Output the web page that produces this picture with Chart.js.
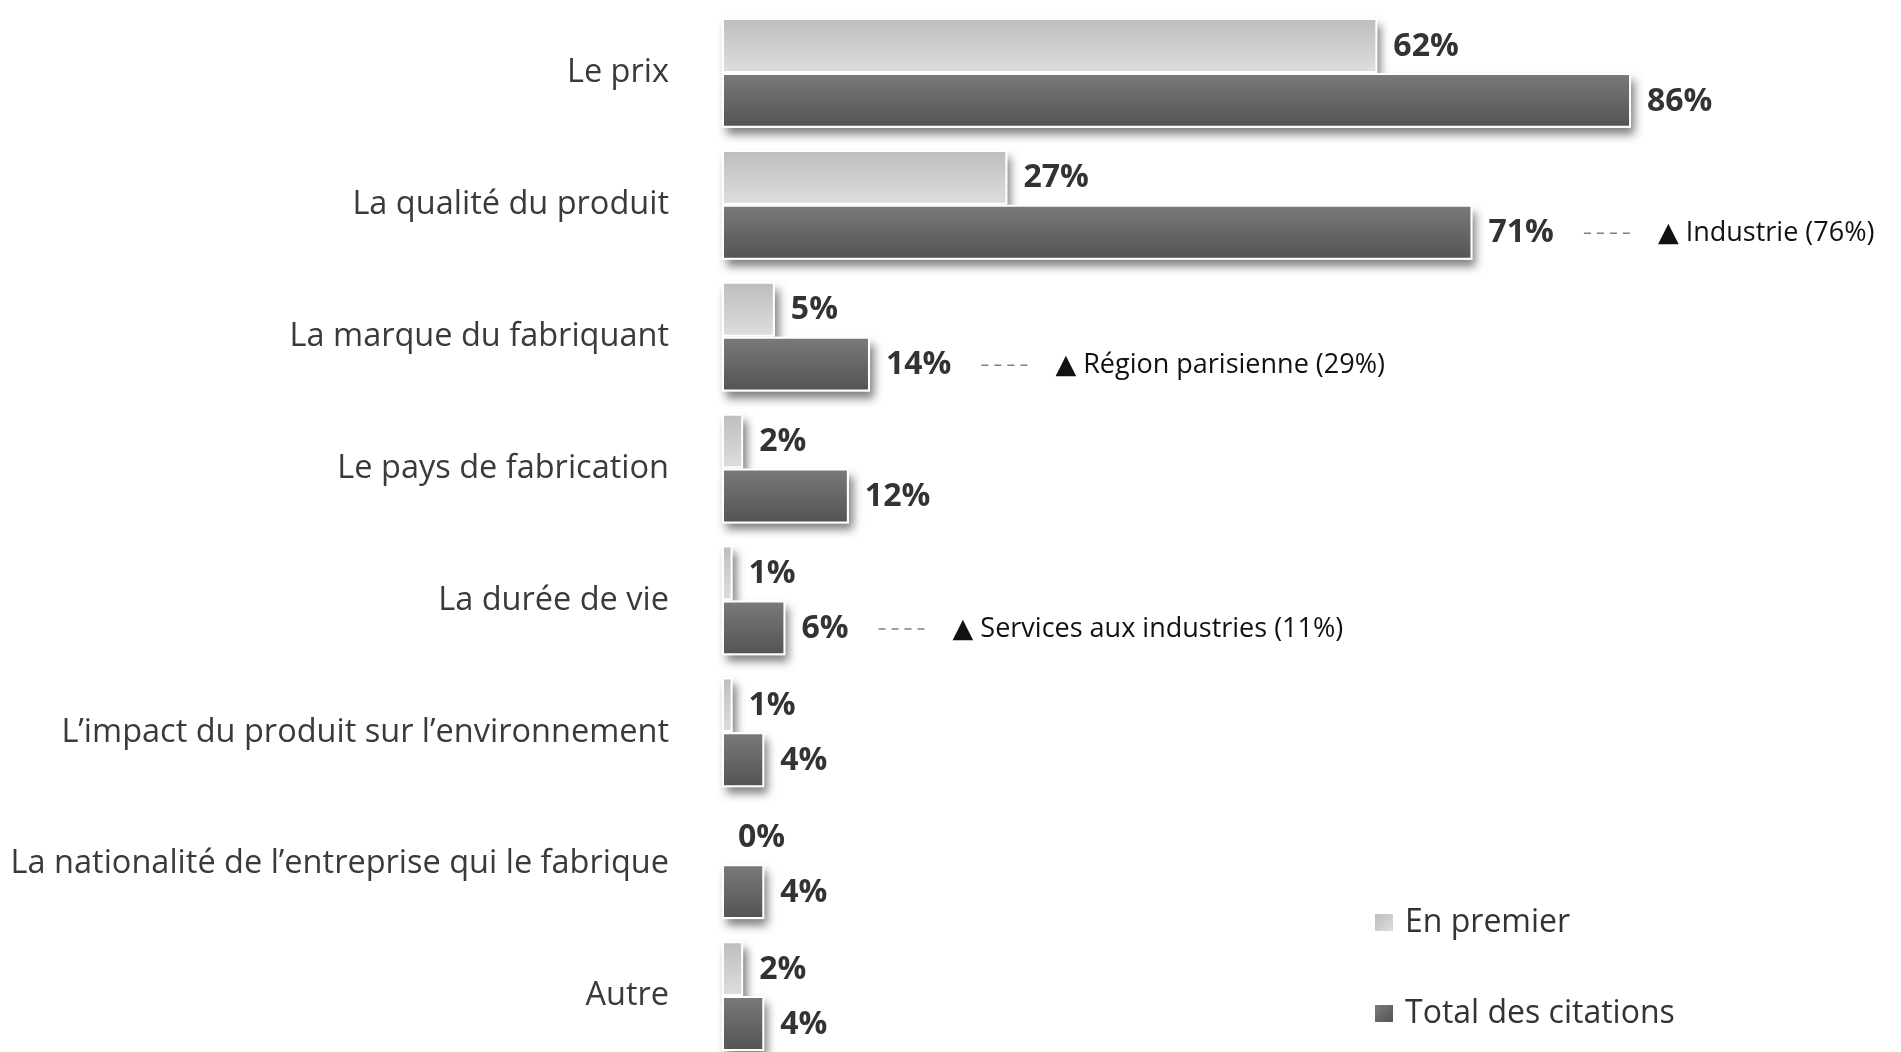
<!DOCTYPE html>
<html lang="fr">
<head>
<meta charset="utf-8">
<script src="https://cdn.jsdelivr.net/npm/chart.js@4.4.1/dist/chart.umd.min.js"></script>
<style>
    html, body { margin: 0; padding: 0; background: #fff; overflow: hidden; }
    #wrap { width: 1901px; height: 1062px; }
</style>
</head>
<body>
<div id="wrap"><canvas id="critChart"></canvas></div>
<script>

const categories = [
    'Le prix',
    'La qualité du produit',
    'La marque du fabriquant',
    'Le pays de fabrication',
    'La durée de vie',
    'L’impact du produit sur l’environnement',
    'La nationalité de l’entreprise qui le fabrique',
    'Autre'
];
const enPremier = [62, 27, 5, 2, 1, 1, 0, 2];
const totalCitations = [86, 71, 14, 12, 6, 4, 4, 4];
const seriesNames = ['En premier', 'Total des citations'];
const notes = ['', 'Industrie (76%)', 'Région parisienne (29%)', '', 'Services aux industries (11%)', '', '', ''];

const FONT = '"Open Sans", "DejaVu Sans", sans-serif';

// light / dark grey shading like the original
const shades = [
    ['#bdbdbd', '#dedede'],
    ['#7a7a7a', '#535353']
];

function barFill(dsIndex) {
    return function (c) {
        const chart = c.chart;
        const y = chart.scales && chart.scales.y;
        if (!chart.chartArea || !y) return shades[dsIndex][0];
        const mid = y.getPixelForValue(c.dataIndex);
        const half = Math.abs(y.getPixelForValue(1) - y.getPixelForValue(0)) * 0.833 / 2;
        const top = dsIndex === 0 ? mid - half : mid;
        const g = chart.ctx.createLinearGradient(0, top, 0, top + half);
        g.addColorStop(0, shades[dsIndex][0]);
        g.addColorStop(1, shades[dsIndex][1]);
        return g;
    };
}

function legendFill(ctx, dsIndex, x, y, s) {
    const g = ctx.createLinearGradient(x, y, x + s, y + s);
    g.addColorStop(0, shades[dsIndex][0]);
    g.addColorStop(1, shades[dsIndex][1]);
    return g;
}

// soft drop shadow under each bar
const shadowPlugin = {
    id: 'barShadow',
    beforeDatasetsDraw(chart) {
        const ctx = chart.ctx;
        chart.data.datasets.forEach((ds, i) => {
            chart.getDatasetMeta(i).data.forEach(bar => {
                const p = bar.getProps(['x', 'y', 'base', 'height'], true);
                const w = Math.abs(p.x - p.base);
                if (w < 1) return;
                ctx.save();
                ctx.shadowColor = 'rgba(0,0,0,0.5)';
                ctx.shadowBlur = 9;
                ctx.shadowOffsetX = 4;
                ctx.shadowOffsetY = 7;
                ctx.fillStyle = '#fff';
                ctx.fillRect(Math.min(p.x, p.base), p.y - p.height / 2, w, p.height);
                ctx.restore();
            });
        });
    }
};

// value labels + notes next to the total bars
const labelPlugin = {
    id: 'valueLabels',
    afterDatasetsDraw(chart) {
        const ctx = chart.ctx;
        ctx.save();
        ctx.textBaseline = 'middle';
        ctx.textAlign = 'left';
        chart.data.datasets.forEach((ds, i) => {
            chart.getDatasetMeta(i).data.forEach((bar, idx) => {
                const txt = ds.data[idx] + '%';
                const x = bar.x + 16;
                ctx.font = 'bold 32px ' + FONT;
                ctx.fillStyle = '#333333';
                ctx.fillText(txt, x, bar.y + 1);
                if (i === 1 && notes[idx]) {
                    const tw = ctx.measureText(txt).width;
                    const dx = x + tw + 30;
                    ctx.save();
                    ctx.strokeStyle = '#808080';
                    ctx.lineWidth = 1.5;
                    ctx.setLineDash([7, 6]);
                    ctx.beginPath();
                    ctx.moveTo(dx, bar.y + 1);
                    ctx.lineTo(dx + 50, bar.y + 1);
                    ctx.stroke();
                    ctx.restore();
                    ctx.font = '27px ' + FONT;
                    ctx.fillStyle = '#111111';
                    ctx.fillText('▲ ' + notes[idx], dx + 74, bar.y + 1);
                }
            });
        });
        ctx.restore();
    }
};

// legend in the lower right corner
const legendPlugin = {
    id: 'cornerLegend',
    afterDraw(chart) {
        const ctx = chart.ctx;
        const rows = [922, 1013];
        ctx.save();
        ctx.font = '32px ' + FONT;
        ctx.textBaseline = 'middle';
        chart.data.datasets.forEach((ds, i) => {
            const y = rows[i];
            ctx.fillStyle = legendFill(ctx, i, 1375, y - 8, 18);
            ctx.fillRect(1375, y - 8, 18, 17);
            ctx.fillStyle = '#333333';
            ctx.fillText(ds.label, 1405, y + 1);
        });
        ctx.restore();
    }
};

const ctx = document.getElementById('critChart').getContext('2d');
const critChart = new Chart(ctx, {
    type: 'bar',
    data: {
        labels: categories,
        datasets: [{
            label: seriesNames[0],
            data: enPremier,
            backgroundColor: barFill(0),
            borderColor: '#ffffff',
            borderWidth: 2,
            borderSkipped: false
        }, {
            label: seriesNames[1],
            data: totalCitations,
            backgroundColor: barFill(1),
            borderColor: '#ffffff',
            borderWidth: 2,
            borderSkipped: false
        }]
    },
    options: {
        indexAxis: 'y',
        responsive: true,
        maintainAspectRatio: false,
        animation: false,
        categoryPercentage: 0.833,
        barPercentage: 1.0,
        layout: { padding: { top: 7, right: 122, bottom: 0, left: 0 } },
        plugins: {
            legend: { display: false },
            tooltip: { enabled: false }
        },
        scales: {
            x: {
                display: false,
                min: 0,
                max: 100
            },
            y: {
                afterFit(scale) {
                    scale.width = 722;
                    scale.paddingTop = 0;
                    scale.paddingBottom = 0;
                },
                grid: { display: false, drawTicks: false },
                border: { display: false },
                ticks: {
                    padding: 53,
                    color: '#3a3a3a',
                    font: { family: FONT, size: 32.5 }
                }
            }
        }
    },
    plugins: [shadowPlugin, labelPlugin, legendPlugin]
});

</script>
</body>
</html>
